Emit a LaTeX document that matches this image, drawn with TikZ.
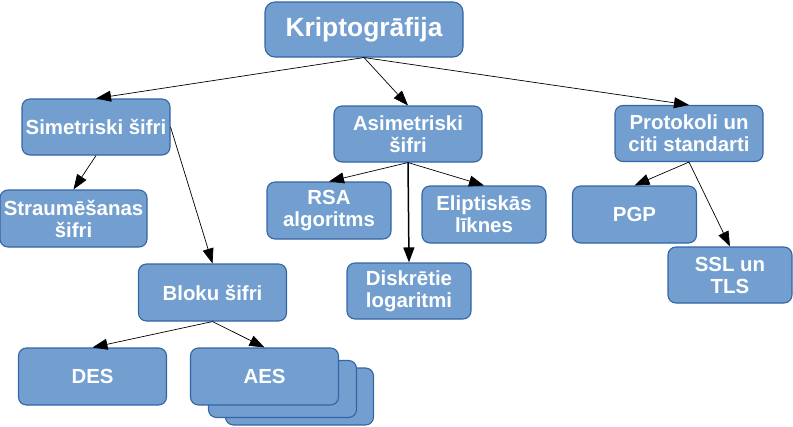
\documentclass[tikz,border=0pt]{standalone}
\usepackage{fontspec}
\setmainfont{Liberation Sans}
\usepackage{xcolor}
\usetikzlibrary{arrows.meta}
\definecolor{BoxFill}{HTML}{729FCF}
\definecolor{BoxLine}{HTML}{3465A4}

\tikzset{
    topic/.style={draw=BoxLine, fill=BoxFill, line width=1.1pt, rounded corners=8pt,
        text=white, font=\fontsize{20.4}{22}\selectfont\bfseries, align=center,
        inner sep=0pt, minimum width=148pt, minimum height=56pt},
    narrow/.style={topic, minimum width=124pt},
    link/.style={line width=0.7pt, -{Triangle[length=15pt,width=11pt]}},
}

\begin{document}
\begin{tikzpicture}[x=1pt, y=-1pt]
        \useasboundingbox (0,0) rectangle (793,426);

        % root
        \node[topic, minimum width=198pt, minimum height=55pt, rounded corners=10pt,
            font=\fontsize{26.4}{28}\selectfont\bfseries] (root) at (364,29.5) {Kriptogrāfija};

        % second level
        \node[topic] (sim) at (96,127) {Simetriski šifri};
        \node[topic] (asim) at (408,134) {Asimetriski\\šifri};
        \node[topic] (prot) at (689,133.5) {Protokoli un\\citi standarti};

        % symmetric branch
        \node[topic, minimum width=147pt, minimum height=57pt] (straum) at (73.5,218.5) {Straumēšanas\\šifri};
        \node[topic, minimum height=57pt] (bloku) at (212.5,292.5) {Bloku šifri};
        \node[topic, minimum height=57pt] (des) at (92.5,376.5) {DES};
        \node[topic, minimum height=57pt] (aesc) at (299.5,396.5) {};
        \node[topic, minimum height=57pt] (aesb) at (282.5,389) {};
        \node[topic, minimum height=57pt] (aes) at (264.5,376.5) {AES};

        % asymmetric branch
        \node[narrow, minimum height=57pt] (rsa) at (329,210.5) {RSA\\algoritms};
        \node[narrow, minimum height=57pt] (elip) at (484,214.5) {Eliptiskās\\līknes};
        \node[narrow] (disk) at (409,291) {Diskrētie\\logaritmi};

        % protocols
        \node[narrow, minimum height=57pt] (pgp) at (634.5,214.5) {PGP};
        \node[narrow] (ssl) at (730,275) {SSL un\\TLS};

        \draw[link] (root.south) -- (sim.north);
        \draw[link] (root.south) -- (asim.north);
        \draw[link] (root.south) -- (prot.north);

        \draw[link] (sim.south) -- (straum.north);
        \draw[link] (sim.east) -- (bloku.north);
        \draw[link] (bloku.south) -- (des.north);
        \draw[link] (bloku.south) -- (aes.north);

        \draw[link] (asim.south) -- (rsa.north);
        \draw[link] (asim.south) -- (elip.north);
        \draw[link, line width=1.5pt] (asim.south) -- (disk.north);

        \draw[link] (prot.south) -- (pgp.north);
        \draw[link] (prot.south) -- (ssl.north);
    \end{tikzpicture}
\end{document}
